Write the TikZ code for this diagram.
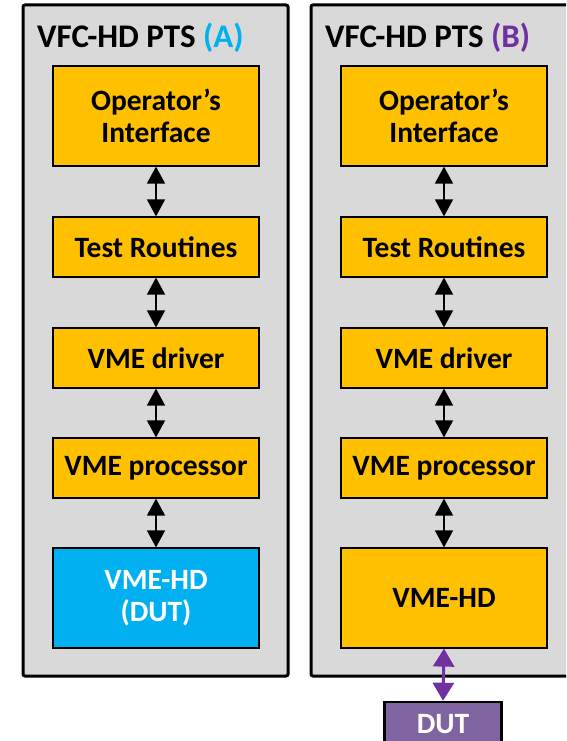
\documentclass[tikz,border=0pt]{standalone}
\usepackage{fontspec}
\setmainfont{Carlito}
\usetikzlibrary{arrows.meta}
\definecolor{boxgray}{HTML}{D9D9D9}
\definecolor{boxgold}{HTML}{FFC000}
\definecolor{boxblue}{HTML}{00B0F0}
\definecolor{ptspurple}{HTML}{7030A0}
\definecolor{dutpurple}{HTML}{8064A2}
\tikzset{
  panel/.style={draw=black,line width=3pt,fill=boxgray,rounded corners=2pt},
  blk/.style={draw=black,line width=1.2pt,fill=boxgold,minimum width=206pt,
    align=center,font=\bfseries\fontsize{29.5}{32}\selectfont},
  ptitle/.style={anchor=base west,inner sep=0pt,font=\bfseries\fontsize{33}{36}\selectfont},
  dblarr/.style={line width=1.5pt,{Triangle[width=18pt,length=17pt]}-{Triangle[width=18pt,length=17pt]}},
  dutarr/.style={line width=3pt,ptspurple,{Triangle[width=21pt,length=18pt]}-{Triangle[width=21pt,length=18pt]}}
}

\begin{document}
\begin{tikzpicture}[x=1pt,y=-1pt]
    \clip (0,0) rectangle (566,741);

    \begin{scope}[shift={(0,0)}]
      \draw[panel] (23,5) rectangle (288,676);
      \node[ptitle] (tA) at (37,48) {VFC-HD PTS \textcolor{boxblue}{(A)}};
      \node[blk,minimum height=100pt] (a1) at (156,116) {Operator’s\\Interface};
      \node[blk,minimum height=60pt] (a2) at (156,247) {Test Routines};
      \node[blk,minimum height=60pt] (a3) at (156,358) {VME driver};
      \node[blk,minimum height=60pt] (a4) at (156,468) {VME processor};
      \node[blk,minimum height=100pt,fill=boxblue,text=white] (a5) at (156,598) {VME-HD\\(DUT)};
      \draw[dblarr] (a1.south) -- (a2.north);
      \draw[dblarr] (a2.south) -- (a3.north);
      \draw[dblarr] (a3.south) -- (a4.north);
      \draw[dblarr] (a4.south) -- (a5.north);
    \end{scope}

    \begin{scope}[shift={(288,0)}]
      \draw[panel] (23,5) rectangle (288,676);
      \node[ptitle] (tB) at (37,48) {VFC-HD PTS \textcolor{ptspurple}{(B)}};
      \node[blk,minimum height=100pt] (b1) at (156,116) {Operator’s\\Interface};
      \node[blk,minimum height=60pt] (b2) at (156,247) {Test Routines};
      \node[blk,minimum height=60pt] (b3) at (156,358) {VME driver};
      \node[blk,minimum height=60pt] (b4) at (156,468) {VME processor};
      \node[blk,minimum height=100pt] (b5) at (156,598) {VME-HD};
      \draw[dblarr] (b1.south) -- (b2.north);
      \draw[dblarr] (b2.south) -- (b3.north);
      \draw[dblarr] (b3.south) -- (b4.north);
      \draw[dblarr] (b4.south) -- (b5.north);
      \node[draw=black,line width=2.5pt,fill=dutpurple,text=white,minimum width=117pt,
        minimum height=44pt,font=\bfseries\fontsize{29.5}{32}\selectfont] (dut) at (155,724) {DUT};
      \draw[dutarr] (b5.south) -- (dut.north);
    \end{scope}
  \end{tikzpicture}
\end{document}
